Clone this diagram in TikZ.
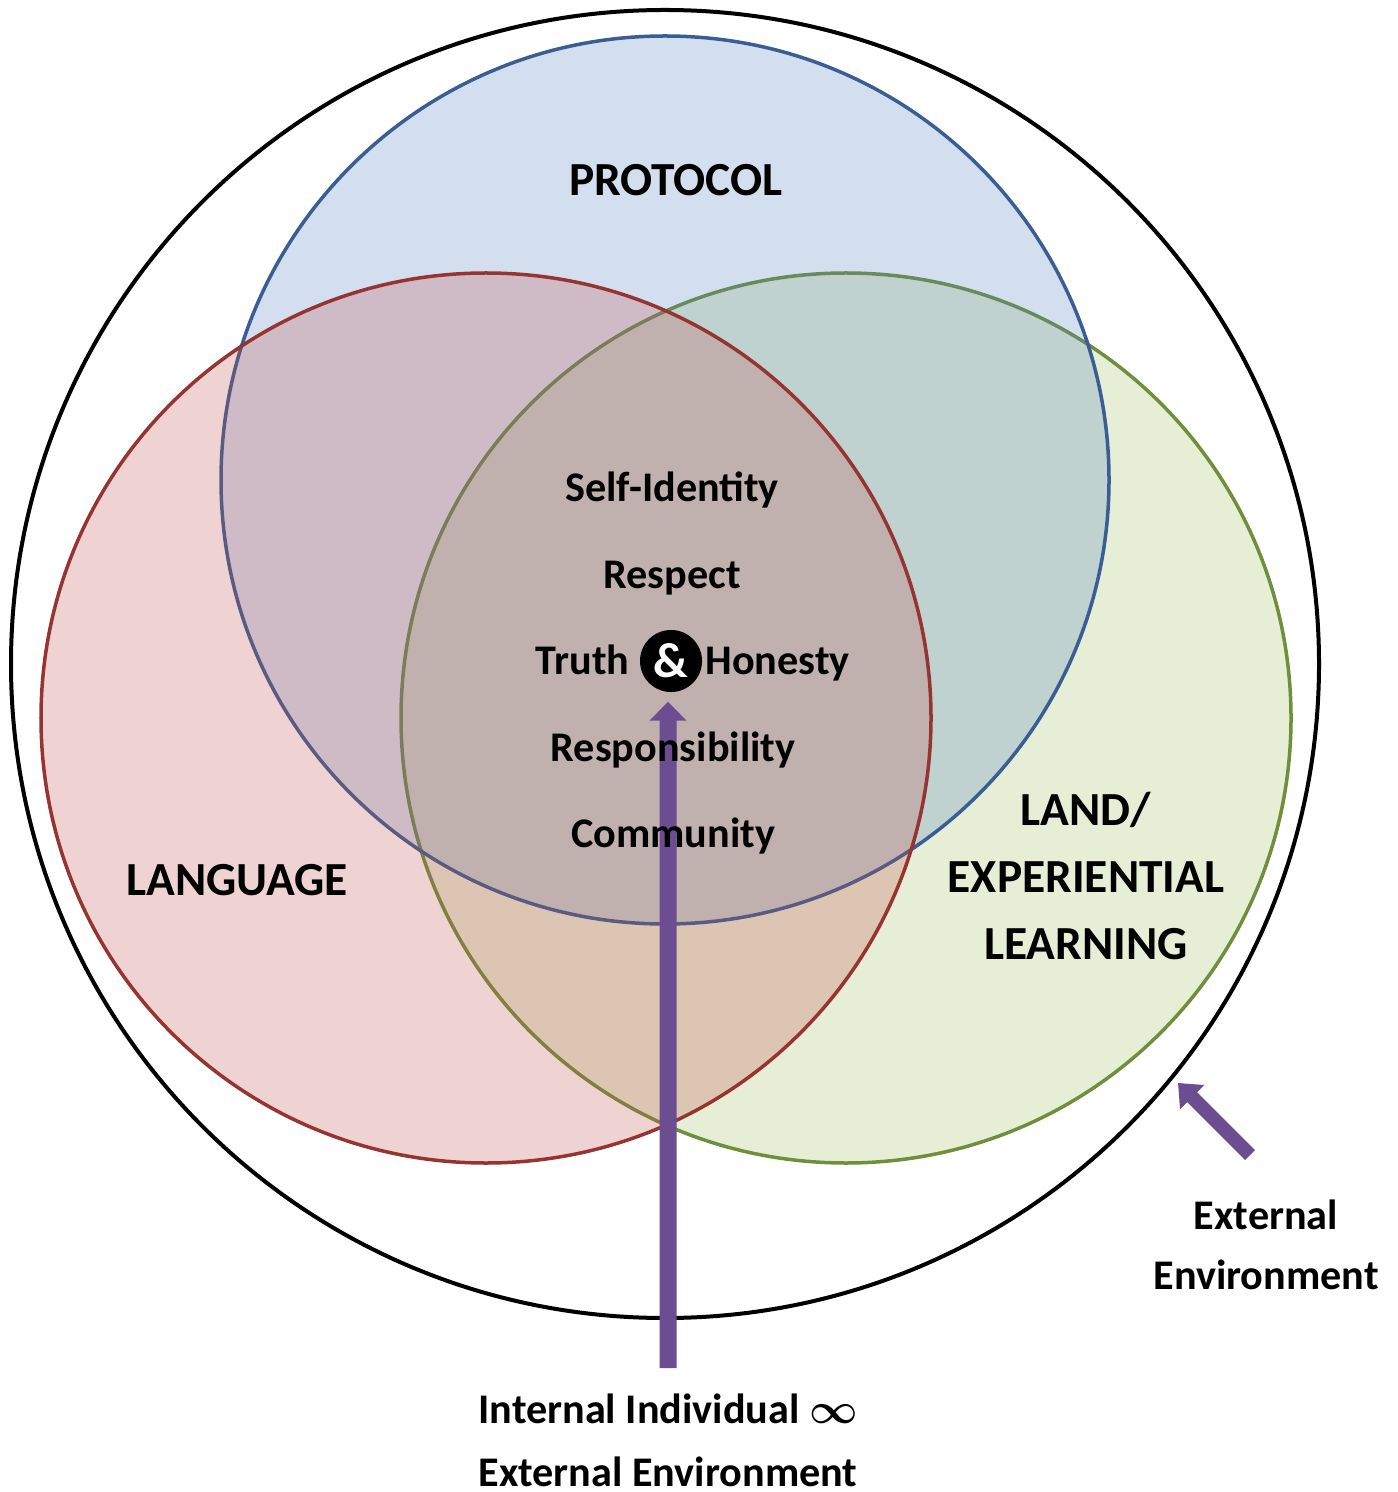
\documentclass[tikz,border=0pt]{standalone}
\usepackage{fontspec}
\setmainfont{Carlito}
\usepackage{tikz}
\usetikzlibrary{arrows.meta}
\usetikzlibrary{positioning}
\definecolor{officeblue}{RGB}{79, 129, 189}
\definecolor{officebluedark}{RGB}{58, 94, 148}
\definecolor{officered}{RGB}{192, 80, 77}
\definecolor{officereddark}{RGB}{150, 52, 50}
\definecolor{officegreen}{RGB}{155, 187, 89}
\definecolor{officegreendark}{RGB}{113, 142, 60}
\definecolor{amethyst}{RGB}{108, 77, 146}

\begin{document}
\begin{tikzpicture}[x=0.01cm, y=-0.01cm,
        bigword/.style={font=\bfseries\fontsize{13.5}{16}\selectfont, inner sep=0pt},
        innerword/.style={font=\bfseries\fontsize{12}{14}\selectfont, inner sep=0pt, text height=1.55ex, text depth=0.45ex, yshift=-0.04cm},
        notes/.style={font=\bfseries\fontsize{12}{17.5}\selectfont, inner sep=0pt, align=center},
        blockarrow/.style={draw=amethyst, line width=0.17cm, -{Triangle[width=0.36cm, length=0.19cm]}},
        smallarrow/.style={draw=amethyst, line width=0.14cm, -{Triangle[width=0.33cm, length=0.2cm]}}]
    \useasboundingbox (0,0) rectangle (1398,1492);
            \draw[black, line width=0.04cm]                                          ( 665, 664) circle (654);
            \filldraw[draw=officegreendark, fill=officegreen, fill opacity=0.25, line width=0.035cm] ( 846, 718) circle (445);
            \filldraw[draw=officebluedark,  fill=officeblue,  fill opacity=0.25, line width=0.035cm] ( 665, 480) circle (444);
            \filldraw[draw=officereddark,   fill=officered,   fill opacity=0.25, line width=0.035cm] ( 486, 718) circle (445);

            \node[circle, fill=black, text=white, minimum size=0.62cm, inner sep=0pt,
                  font=\bfseries\fontsize{14}{16}\selectfont] (amp) at ( 671, 661) {\&};

            \coordinate (shaftfoot) at ( 668,1368);
            \coordinate (ringfoot)  at (1250,1155);
            \coordinate (ringtip)   at (1178,1083);
            \draw[blockarrow] (shaftfoot) -- ([xshift=-0.03cm, yshift=-0.09cm]amp.south);
            \draw[smallarrow] (ringfoot) -- (ringtip);

            \node[bigword] (protocol) at ( 676, 180) {PROTOCOL};
            \node[bigword] (language) at ( 237, 880) {LANGUAGE};
            \node[bigword, align=center, font=\bfseries\fontsize{13.5}{19}\selectfont] (land) at (1086, 876) {LAND/\\EXPERIENTIAL\\LEARNING};

            \node[innerword, left=0.09cm of amp]  (truth)   {Truth};
            \node[innerword, right=0.02cm of amp] (honesty) {Honesty};
            \node[innerword] (respect)  at ( 672, 575) {Respect};
            \node[innerword] (selfid)   at ( 672, 488) {Self-Identity};
            \node[innerword] (respons)  at ( 673, 748) {Responsibility};
            \node[innerword] (commun)   at ( 673, 834) {Community};

            \node[notes, font=\bfseries\fontsize{12}{17}\selectfont] (extenv)   at (1266,1245) {External\\Environment};
            \node[notes, font=\bfseries\fontsize{12}{17.9}\selectfont] (internal) at ( 668,1440) {Internal Individual {\boldmath$\infty$}\\External Environment};
\end{tikzpicture}
\end{document}
